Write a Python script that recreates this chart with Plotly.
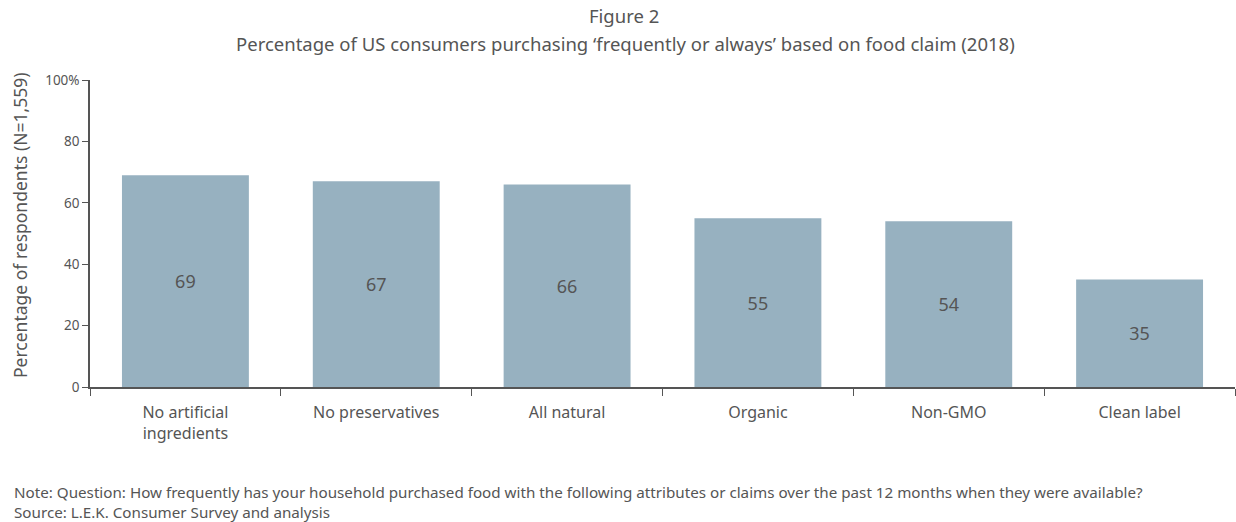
import plotly.graph_objects as go

categories = ["No artificial<br>ingredients", "No preservatives", "All natural", "Organic", "Non-GMO", "Clean label"]
values = [69, 67, 66, 55, 54, 35]
y_tickvals = [0, 20, 40, 60, 80, 100]
y_ticktext = ["0", "20", "40", "60", "80", "100%"]

FONT = "Noto Sans"
TEXT = "#555555"

L, T, B_AX = 90, 80, 387  # plot area pixel edges
W_PLOT = 1235 - L
H_PLOT = B_AX - T

fig = go.Figure(go.Bar(
    x=categories, y=values,
    marker=dict(color="#97b1c0", line=dict(width=0)),
    text=[str(v) for v in values],
    textposition="inside", insidetextanchor="middle",
    textfont=dict(family=FONT, size=18, color=TEXT),
    hoverinfo="skip",
))

fig.update_layout(
    width=1236, height=522,
    margin=dict(l=L, r=1236 - 1235, t=T, b=522 - B_AX, autoexpand=False),
    paper_bgcolor="white", plot_bgcolor="white",
    font=dict(family=FONT, color=TEXT),
    bargap=0.335,
    showlegend=False,
    xaxis=dict(
        automargin=False,
        showline=True, linecolor="#555555", linewidth=1.5,
        ticks="outside", tickson="boundaries", ticklen=7, tickcolor="#555555",
        tickfont=dict(family=FONT, size=16, color=TEXT),
        ticklabelstandoff=10,
        showgrid=False, zeroline=False,
    ),
    yaxis=dict(
        automargin=False,
        range=[0, 100], tickvals=y_tickvals, ticktext=y_ticktext,
        showline=True, linecolor="#555555", linewidth=1.5,
        ticks="outside", ticklen=6, tickcolor="#555555",
        tickfont=dict(family=FONT, size=13.5, color=TEXT),
        showgrid=False, zeroline=False,
    ),
)

def ya(py):
    return (B_AX - py) / H_PLOT

def xa(px):
    return (px - L) / W_PLOT

fig.add_annotation(text="Figure 2", xref="paper", yref="paper", x=xa(624), y=ya(16),
                   xanchor="center", yanchor="middle", showarrow=False,
                   font=dict(family=FONT, size=18.5, color=TEXT))
fig.add_annotation(text="Percentage of US consumers purchasing \u2018frequently or always\u2019 based on food claim (2018)",
                   xref="paper", yref="paper", x=xa(625), y=ya(44),
                   xanchor="center", yanchor="middle", showarrow=False,
                   font=dict(family=FONT, size=18.5, color=TEXT))
fig.add_annotation(text="Percentage of respondents (N=1,559)",
                   xref="paper", yref="paper", x=xa(20), y=ya(226), textangle=-90,
                   xanchor="center", yanchor="middle", showarrow=False,
                   font=dict(family=FONT, size=17.5, color=TEXT))
fig.add_annotation(text="Note: Question: How frequently has your household purchased food with the following attributes or claims over the past 12 months when they were available?",
                   xref="paper", yref="paper", x=xa(12), y=ya(492),
                   xanchor="left", yanchor="middle", showarrow=False,
                   font=dict(family=FONT, size=15.2, color=TEXT))
fig.add_annotation(text="Source: L.E.K. Consumer Survey and analysis",
                   xref="paper", yref="paper", x=xa(12), y=ya(512),
                   xanchor="left", yanchor="middle", showarrow=False,
                   font=dict(family=FONT, size=15.2, color=TEXT))

fig.write_html("out.html", config={"displayModeBar": False},
               post_script="document.body.style.margin='0';document.body.style.overflow='hidden';")
